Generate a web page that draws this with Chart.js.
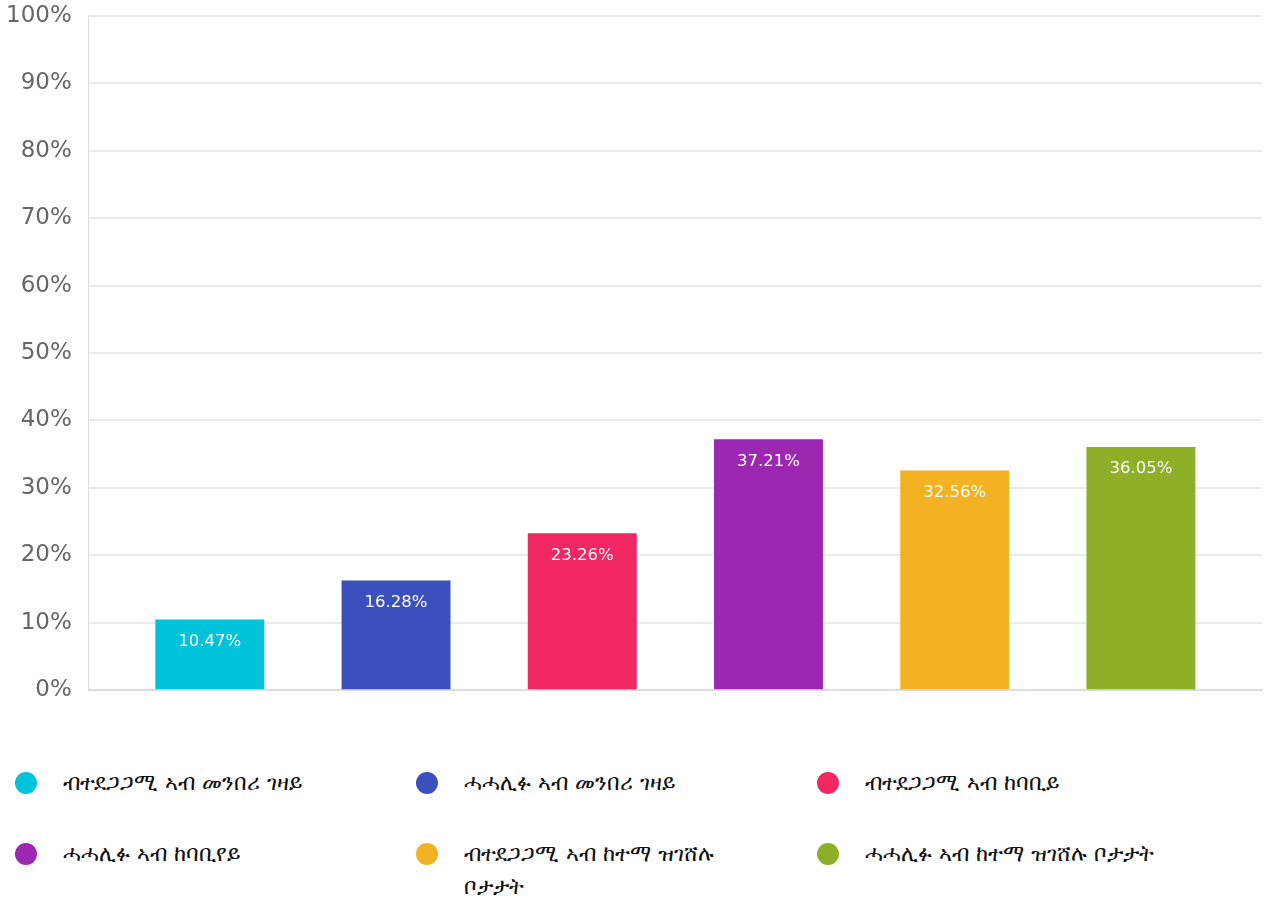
<!DOCTYPE html>
<html>
<head>
<meta charset="utf-8">
<script src="https://cdn.jsdelivr.net/npm/chart.js@4/dist/chart.umd.min.js"></script>
<style>
  body { margin: 0; background: #fff; font-family: "DejaVu Sans", sans-serif; overflow: hidden; }
  #wrap { position: relative; width: 1275px; height: 736px; margin: -15px 0 0 -11px; }
  #legend { display: flex; flex-wrap: wrap; width: 1264px; margin-top: 49px; }
  .item { width: 401px; display: flex; align-items: flex-start; margin-bottom: 42px; }
  .dot { width: 22px; height: 22px; border-radius: 50%; margin: 2px 26px 0 15px; flex: none; }
  .txt { font-size: 22px; line-height: 33px; color: #111; max-width: 300px; margin-top: -4px; }
</style>
</head>
<body>
<div id="wrap"><canvas id="myChart"></canvas></div>
<div id="legend"></div>
<script>
var labels = ['ብተደጋጋሚ ኣብ መንበሪ ገዛይ', 'ሓሓሊፉ ኣብ መንበሪ ገዛይ', 'ብተደጋጋሚ ኣብ ከባቢይ',
              'ሓሓሊፉ ኣብ ከባቢየይ', 'ብተደጋጋሚ ኣብ ከተማ ዝገሸሉ ቦታታት', 'ሓሓሊፉ ኣብ ከተማ ዝገሸሉ ቦታታት'];
var values = [10.47, 16.28, 23.26, 37.21, 32.56, 36.05];
var colors = ['#00c2d9', '#3b50bd', '#f12763', '#9c28b2', '#f3b223', '#8db028'];
var yTicks = [0, 10, 20, 30, 40, 50, 60, 70, 80, 90, 100];

// bar value labels inside the top of each bar
var valueLabels = {
  id: 'valueLabels',
  afterDatasetsDraw(chart) {
    var ctx = chart.ctx;
    var meta = chart.getDatasetMeta(0);
    ctx.save();
    ctx.fillStyle = '#fff';
    ctx.font = '16.5px "DejaVu Sans"';
    ctx.textAlign = 'center';
    ctx.textBaseline = 'middle';
    meta.data.forEach(function (bar, i) {
      ctx.fillText(values[i].toFixed(2) + '%', bar.x, bar.y + 22);
    });
    ctx.restore();
  }
};

var ctx = document.getElementById('myChart').getContext('2d');
var myChart = new Chart(ctx, {
  type: 'bar',
  data: {
    datasets: [{
      data: values.map(function (v, i) { return { x: i, y: v }; }),
      backgroundColor: colors,
      barPercentage: 0.585,
      categoryPercentage: 1
    }]
  },
  options: {
    responsive: true,
    maintainAspectRatio: false,
    animation: false,
    layout: { padding: { top: 0, right: 2, left: 0 } },
    plugins: { legend: { display: false }, tooltip: { enabled: false } },
    scales: {
      x: {
        type: 'linear',
        offset: false,
        min: -0.65,
        max: 5.65,
        afterBuildTicks: function (axis) { axis.ticks = values.map(function (v, i) { return { value: i }; }); },
        ticks: { display: false },
        grid: { display: false },
        border: { color: '#dddddd', width: 2 }
      },
      y: {
        min: 0,
        max: 100,
        afterBuildTicks: function (axis) { axis.ticks = yTicks.map(function (v) { return { value: v }; }); },
        ticks: {
          color: '#666',
          font: { family: 'DejaVu Sans', size: 23 },
          padding: 17,
          callback: function (v) { return v + '%'; }
        },
        grid: { color: '#ebebeb', lineWidth: 2, drawTicks: false },
        border: { color: '#dddddd', width: 1 }
      }
    }
  },
  plugins: [valueLabels]
});

var legend = document.getElementById('legend');
labels.forEach(function (l, i) {
  var it = document.createElement('div');
  it.className = 'item';
  it.innerHTML = '<span class="dot" style="background:' + colors[i] + '"></span><span class="txt">' + l + '</span>';
  legend.appendChild(it);
});
</script>
</body>
</html>
